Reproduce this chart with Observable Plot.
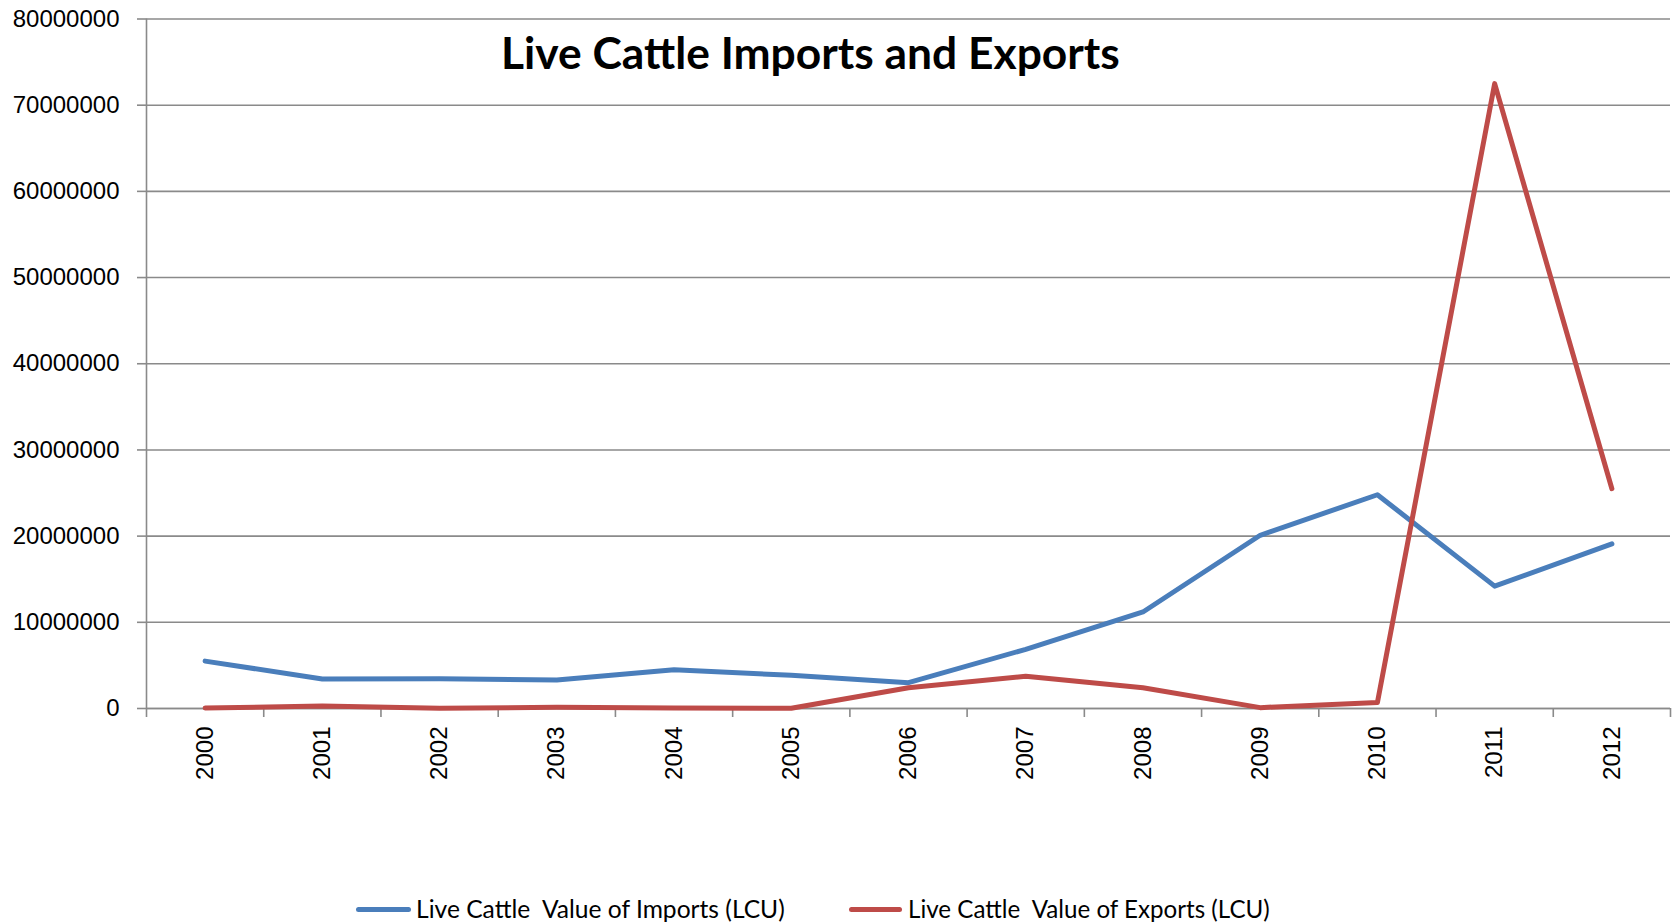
<!DOCTYPE html>
<html><head><meta charset="utf-8">
<script src="https://cdn.jsdelivr.net/npm/d3@7"></script>
<script src="https://cdn.jsdelivr.net/npm/@observablehq/plot@0.6"></script>
<style>
body{margin:0;background:#fff;}
#wrap{position:relative;width:1679px;height:924px;overflow:hidden;background:#fff;}
#chart{position:absolute;left:0;top:0;}
.fit{position:absolute;white-space:pre;line-height:1;color:#000;}
#title{font-family:Lato,"Open Sans",sans-serif;font-weight:bold;}
.legtext{font-family:Lato,"Open Sans",sans-serif;}
.legline{position:absolute;height:5px;border-radius:3px;}
</style></head><body>
<div id="wrap">
  <div id="chart"></div>
  <div id="title" class="fit">Live Cattle Imports and Exports</div>
  <div id="leg"></div>
</div>
<script>
// ---- data ----
const years = [2000, 2001, 2002, 2003, 2004, 2005, 2006, 2007, 2008, 2009, 2010, 2011, 2012];
const importsValues = [5500000, 3420000, 3450000, 3300000, 4500000, 3850000, 3000000, 6870000, 11200000, 20100000, 24800000, 14200000, 19100000];
const exportsValues = [50000, 300000, 20000, 150000, 50000, 20000, 2400000, 3750000, 2400000, 100000, 700000, 72500000, 25500000];
const seriesNames = ["Live Cattle  Value of Imports (LCU)", "Live Cattle  Value of Exports (LCU)"];
const seriesColors = ["#4A7EBB", "#BE4B48"];
const yTicks = [0, 10000000, 20000000, 30000000, 40000000, 50000000, 60000000, 70000000, 80000000];
const titleText = "Live Cattle Imports and Exports";

const rows = years.flatMap((yr, i) => [
  {year: yr, value: importsValues[i], series: seriesNames[0]},
  {year: yr, value: exportsValues[i], series: seriesNames[1]}
]);
const boundaries = d3.range(years.length + 1).map(i => years[0] - 0.5 + i);
const gray = "#8a8a8a";

const chart = Plot.plot({
  width: 1679, height: 800,
  marginLeft: 146, marginRight: 9, marginTop: 18.5, marginBottom: 92,
  x: {type: "linear", domain: [years[0] - 0.5, years[years.length - 1] + 0.5]},
  y: {domain: [0, 80000000]},
  color: {domain: seriesNames, range: seriesColors},
  style: {fontFamily: "'Liberation Sans', Arial, sans-serif", fontSize: "24px", color: "#000", background: "#fff"},
  marks: [
    Plot.gridY(yTicks, {stroke: gray, strokeOpacity: 1, strokeWidth: 1.6}),
    Plot.axisY({ticks: yTicks, tickFormat: d3.format("d"), tickSize: 9, tickPadding: 18, label: null, stroke: gray, strokeWidth: 1.6, fontSize: 24}),
    Plot.ruleX([years[0] - 0.5], {stroke: gray, strokeWidth: 1.6}),
    Plot.ruleY([0], {stroke: gray, strokeWidth: 1.6}),
    Plot.axisX({ticks: boundaries, tickFormat: () => "", tickSize: 9, label: null, stroke: gray, strokeWidth: 1.6}),
    Plot.axisX({ticks: years, tickFormat: d => String(d), tickSize: 0, tickPadding: 18, tickRotate: -90, label: null, fontSize: 24}),
    Plot.line(rows, {x: "year", y: "value", z: "series", stroke: "series", strokeWidth: 5, strokeLinecap: "round", strokeLinejoin: "round"})
  ]
});
document.getElementById("chart").appendChild(chart);

// fit a text element to a target width, place its left edge and vertical center
function place(el, left, centerY, targetWidth, base) {
  el.style.fontSize = base + "px";
  const w = el.getBoundingClientRect().width;
  const size = base * targetWidth / w;
  el.style.fontSize = size + "px";
  el.style.left = left + "px";
  const h = el.getBoundingClientRect().height;
  el.style.top = (centerY - h / 2) + "px";
}
place(document.getElementById("title"), 501, 52, 619, 44);

const leg = document.getElementById("leg");
const legendSpec = [
  {lineX: 356, lineW: 55, textX: 416, textW: 369},
  {lineX: 849, lineW: 53, textX: 908, textW: 362}
];
seriesNames.forEach((name, i) => {
  const s = legendSpec[i];
  const ln = document.createElement("div");
  ln.className = "legline";
  ln.style.left = s.lineX + "px";
  ln.style.width = s.lineW + "px";
  ln.style.top = (909 - 2.5) + "px";
  ln.style.background = seriesColors[i];
  leg.appendChild(ln);
  const t = document.createElement("div");
  t.className = "fit legtext";
  t.textContent = name;
  leg.appendChild(t);
  place(t, s.textX, 909, s.textW, 24);
});
</script>
</body></html>
